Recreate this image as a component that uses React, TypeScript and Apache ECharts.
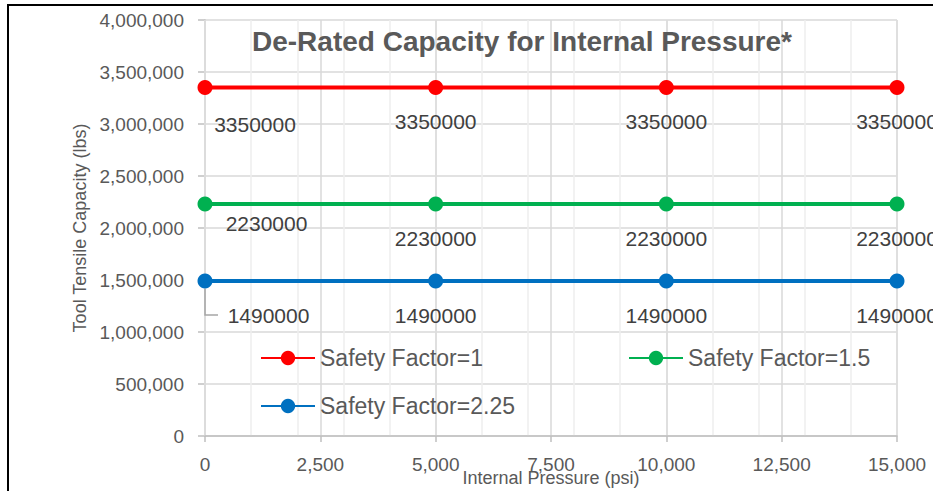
import React, { useEffect, useRef } from "react";
import * as echarts from "echarts";

const pressures = [0, 5000, 10000, 15000];
const sf1Values = [3350000, 3350000, 3350000, 3350000];
const sf15Values = [2230000, 2230000, 2230000, 2230000];
const sf225Values = [1490000, 1490000, 1490000, 1490000];
const seriesNames = ["Safety Factor=1", "Safety Factor=1.5", "Safety Factor=2.25"];
const seriesColors = ["#FF0000", "#00B050", "#0070C0"];
const titleText = "De-Rated Capacity for Internal Pressure*";
const xName = "Internal Pressure (psi)";
const yName = "Tool Tensile Capacity (lbs)";

const FONT = "'Liberation Sans', Arial, sans-serif";
const fmt = (v: number) => v.toLocaleString("en-US");

export default function App() {
  const ref = useRef<HTMLDivElement>(null);
  useEffect(() => {
    if (!ref.current) return;
    const chart = echarts.init(ref.current, undefined, {
      renderer: "svg",
      width: 933,
      height: 491,
    });

    const firstOffsets: number[][] = [
      [50, 37],
      [61.5, 19],
      [63.5, 34],
    ];
    const valueSets = [sf1Values, sf15Values, sf225Values];

    const series = valueSets.map((vals, si) => ({
      name: seriesNames[si],
      type: "line",
      xAxisIndex: 0,
      yAxisIndex: 0,
      symbol: "circle",
      symbolSize: 15,
      color: seriesColors[si],
      lineStyle: { width: 4, color: seriesColors[si] },
      itemStyle: { color: seriesColors[si] },
      z: 5,
      label: {
        show: true,
        position: "inside",
        offset: [0, 34],
        color: "#404040",
        fontSize: 21,
        fontFamily: FONT,
        formatter: (p: any) => String(p.value[1]),
      },
      data: pressures.map((x, i) => ({
        value: [x, vals[i]],
        ...(i === 0 ? { label: { offset: firstOffsets[si] } } : {}),
      })),
    }));

    chart.setOption({
      animation: false,
      backgroundColor: "#ffffff",
      title: {
        text: titleText,
        left: 252,
        top: 27,
        padding: 0,
        textStyle: {
          fontFamily: FONT,
          fontSize: 28,
          fontWeight: "bold",
          color: "#595959",
        },
      },
      grid: {
        left: 205,
        width: 692,
        top: 20,
        height: 416,
        containLabel: false,
        outerBoundsMode: "none",
      },
      legend: [
        {
          data: [seriesNames[0], seriesNames[2]],
          orient: "vertical",
          left: 260,
          top: 346,
          itemGap: 24,
          itemWidth: 54,
          itemHeight: 18,
          padding: 0,
          textStyle: { fontFamily: FONT, fontSize: 23, color: "#595959", lineHeight: 24 },
        },
        {
          data: [seriesNames[1]],
          orient: "vertical",
          left: 628,
          top: 346,
          itemWidth: 54,
          itemHeight: 18,
          padding: 0,
          textStyle: { fontFamily: FONT, fontSize: 23, color: "#595959", lineHeight: 24 },
        },
      ],
      xAxis: [
        {
          type: "value",
          min: 0,
          max: 15000,
          interval: 2500,
          z: 3,
          name: xName,
          nameLocation: "middle",
          nameGap: 33,
          nameMoveOverlap: false,
          nameTextStyle: { fontFamily: FONT, fontSize: 18, color: "#595959" },
          axisLine: { show: true, lineStyle: { color: "#bfbfbf", width: 1.5 } },
          axisTick: { show: true, length: 6, lineStyle: { color: "#bfbfbf", width: 1.5 } },
          axisLabel: {
            margin: 19,
            fontFamily: FONT,
            fontSize: 19,
            color: "#595959",
            formatter: (v: number) => fmt(v),
          },
          splitLine: { show: true, lineStyle: { color: "#d9d9d9", width: 1.5 } },
        },
        {
          type: "value",
          min: 0,
          max: 15000,
          interval: 1000,
          z: 1,
          show: true,
          axisLine: { show: false },
          axisTick: { show: false },
          axisLabel: { show: false },
          splitLine: { show: true, lineStyle: { color: "#eeeeee", width: 1.5 } },
        },
      ],
      yAxis: {
        type: "value",
        min: 0,
        max: 4000000,
        interval: 500000,
        name: yName,
        nameLocation: "middle",
        nameGap: 116,
        nameRotate: 90,
        nameMoveOverlap: false,
        nameTextStyle: { fontFamily: FONT, fontSize: 18, color: "#595959" },
        axisLine: { show: true, lineStyle: { color: "#bfbfbf", width: 1.5 } },
        axisTick: { show: true, length: 7, lineStyle: { color: "#bfbfbf", width: 1.5 } },
        axisLabel: {
          margin: 21,
          fontFamily: FONT,
          fontSize: 19,
          color: "#595959",
          formatter: (v: number) => fmt(v),
        },
        splitLine: { show: true, lineStyle: { color: "#d9d9d9", width: 1.5 } },
      },
      series,
    });

    const p = chart.convertToPixel({ xAxisIndex: 0, yAxisIndex: 0 }, [
      pressures[0],
      sf225Values[0],
    ]) as number[];
    chart.setOption({
      graphic: [
        {
          type: "polyline",
          z: 10,
          silent: true,
          shape: {
            points: [
              [p[0], p[1] + 8],
              [p[0], p[1] + 34],
              [p[0] + 13, p[1] + 34],
            ],
          },
          style: { stroke: "#a6a6a6", lineWidth: 1.5, fill: "none" },
        },
        {
          type: "rect",
          z: 10,
          silent: true,
          shape: { x: 8, y: 5, width: 1000, height: 1000 },
          style: { stroke: "#000000", lineWidth: 2, fill: "none" },
        },
      ],
    });

    return () => chart.dispose();
  }, []);
  return (
    <div
      ref={ref}
      style={{ position: "absolute", left: 0, top: 0, width: 933, height: 491 }}
    />
  );
}
